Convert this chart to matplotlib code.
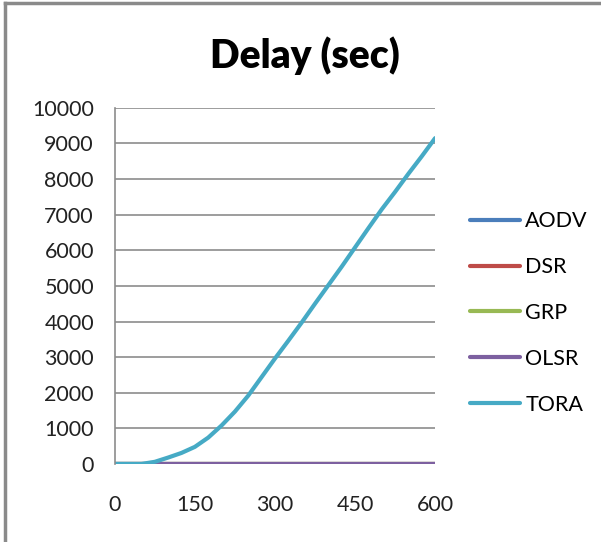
import numpy as np
import matplotlib.pyplot as plt
from matplotlib.lines import Line2D

plt.rcParams['font.family'] = ['Lato', 'DejaVu Sans']

# simulation time (sec)
t = [0, 25, 50, 75, 100, 125, 150, 175, 200, 225, 250, 275, 300,
     325, 350, 375, 400, 425, 450, 475, 500, 525, 550, 575, 600]

aodv = [0] * len(t)
dsr = [0] * len(t)
grp = [0] * len(t)
olsr = [0] * len(t)
tora = [0, 0, 0, 60, 180, 310, 480, 740, 1080, 1470, 1920, 2440, 2960,
        3460, 3970, 4500, 5020, 5540, 6080, 6620, 7150, 7640, 8150, 8640, 9150]

names = ["AODV", "DSR", "GRP", "OLSR", "TORA"]
series = [aodv, dsr, grp, olsr, tora]
colors = ["#4A7EBB", "#BE4B48", "#98B954", "#7D60A0", "#46AAC5"]

fig = plt.figure(figsize=(6.01, 5.42), dpi=100)
ax = fig.add_axes([0.191, 0.144, 0.533, 0.657])

for name, y, c in zip(names, series, colors):
    ax.plot(t, y, color=c, lw=3, label=name, solid_capstyle='round')

ax.set_xlim(0, 600)
ax.set_ylim(0, 10000)
ax.set_xticks([0, 150, 300, 450, 600])
ax.set_yticks(np.arange(0, 10001, 1000))
ax.tick_params(axis='both', length=0, labelsize=15.5, colors='#222222')
ax.tick_params(axis='x', pad=22)
ax.tick_params(axis='y', pad=15)
ax.grid(axis='y', color='#8c8c8c', lw=1.2)
for s in ['top', 'right', 'bottom']:
    ax.spines[s].set_visible(False)
ax.spines['left'].set_color('#8c8c8c')
ax.spines['left'].set_linewidth(1.2)
ax.set_axisbelow(True)

fig.text(0.508, 0.898, "Delay (sec)", ha='center', va='center',
         fontsize=28, fontweight='heavy')

ax.legend(loc='center left', bbox_to_anchor=(1.11, 0.424), frameon=False,
          fontsize=15.5, handlelength=2.3, handletextpad=0.25, labelspacing=1.2,
          borderpad=0, borderaxespad=0)

# outer chart frame (top and left edges)
fig.add_artist(Line2D([0.009, 1.0], [0.994, 0.994], color='#8a8a8a', lw=2.5))
fig.add_artist(Line2D([0.009, 0.009], [0.0, 0.994], color='#8a8a8a', lw=2.5))

plt.savefig("out.png", dpi=100)
